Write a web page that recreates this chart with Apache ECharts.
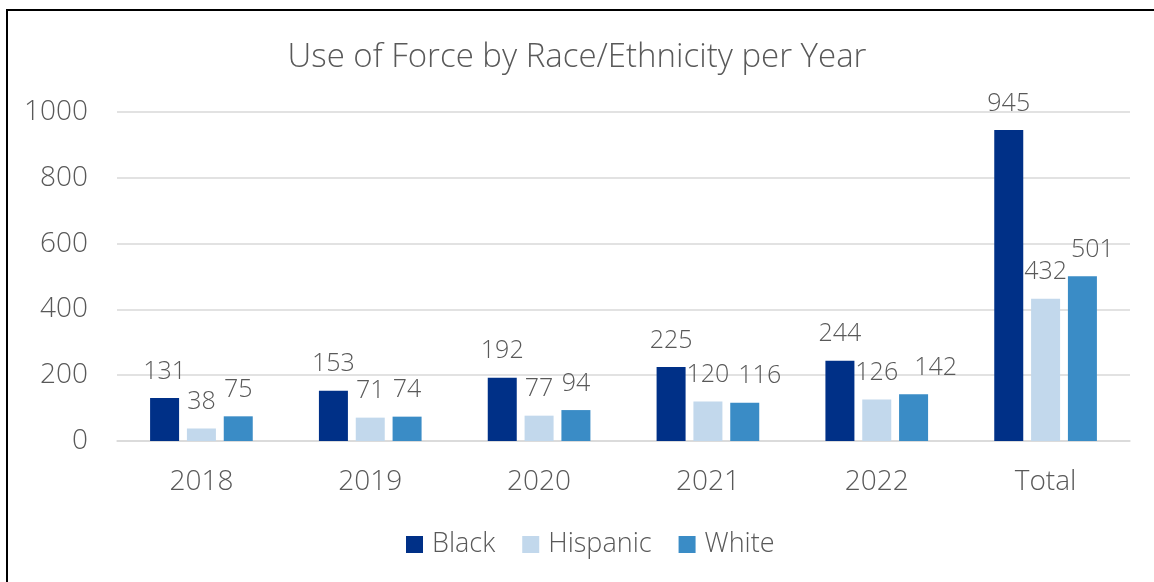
<!DOCTYPE html>
<html>
<head>
<meta charset="utf-8">
<script src="https://cdn.jsdelivr.net/npm/echarts@6/dist/echarts.min.js"></script>
<style>
  html, body { margin: 0; padding: 0; background: #fff; }
  #frame { position: absolute; left: 6px; top: 9px; width: 1148px; height: 573px;
           border-left: 2px solid #000; border-top: 2px solid #000; box-sizing: border-box; }
  #chart { position: absolute; left: 0; top: 0; width: 1154px; height: 582px; }
</style>
</head>
<body>
<div id="frame"></div>
<div id="chart"></div>
<script>
const categories = ['2018', '2019', '2020', '2021', '2022', 'Total'];
const blackValues = [131, 153, 192, 225, 244, 945];
const hispanicValues = [38, 71, 77, 120, 126, 432];
const whiteValues = [75, 74, 94, 116, 142, 501];
const yTicks = [0, 200, 400, 600, 800, 1000];

// horizontal nudges (px) for value labels that would otherwise crowd a neighbour
const whiteLabelNudge = [0, 0, 0, 15, 22, 10];

const FONT = '"Open Sans", "Noto Sans", sans-serif';
const TEXT = '#595959';

const chart = echarts.init(document.getElementById('chart'), null, { renderer: 'canvas' });

const labelStyle = {
  show: true, position: 'top', distance: 14,
  fontFamily: FONT, fontWeight: 300, fontSize: 25, color: TEXT
};

function series(name, values, color, nudge) {
  const data = values.map((v, i) =>
    nudge && nudge[i] ? { value: v, label: { offset: [nudge[i], 0] } } : v);
  return {
    name, type: 'bar', data,
    barWidth: 29, barGap: '27%',
    itemStyle: { color },
    label: labelStyle
  };
}

chart.setOption({
  animation: false,
  title: {
    text: 'Use of Force by Race/Ethnicity per Year',
    left: 'center', top: 36,
    textStyle: { fontFamily: FONT, fontWeight: 300, fontSize: 33, color: TEXT }
  },
  legend: {
    bottom: 19, left: 401,
    itemWidth: 17, itemHeight: 17, itemGap: 27,
    icon: 'rect',
    textStyle: { fontFamily: FONT, fontWeight: 300, fontSize: 27, color: TEXT, padding: [0, 0, 0, 4] }
  },
  grid: { left: 117, right: 24, top: 112, bottom: 141 },
  xAxis: {
    type: 'category', data: categories,
    axisLine: { lineStyle: { color: '#d9d9d9', width: 1.5 } },
    axisTick: { show: false },
    axisLabel: { margin: 27, fontFamily: FONT, fontWeight: 300, fontSize: 28, color: TEXT }
  },
  yAxis: {
    type: 'value', min: yTicks[0], max: yTicks[yTicks.length - 1], interval: 200,
    axisLine: { show: false }, axisTick: { show: false },
    splitLine: { lineStyle: { color: '#d9d9d9', width: 1.5 } },
    axisLabel: {
      margin: 29, fontFamily: FONT, fontWeight: 300, fontSize: 28, color: TEXT,
      formatter: v => String(v)
    }
  },
  series: [
    series('Black', blackValues, '#003087'),
    series('Hispanic', hispanicValues, '#c2d8ec'),
    series('White', whiteValues, '#3a8cc6', whiteLabelNudge)
  ]
});
</script>
</body>
</html>
